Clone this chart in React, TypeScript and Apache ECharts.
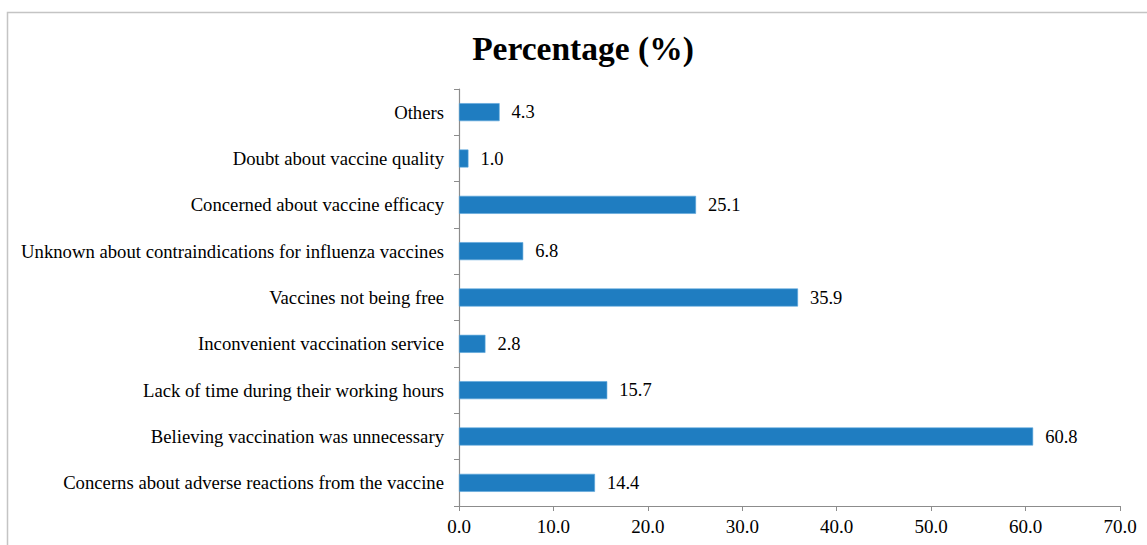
import React, { useEffect, useRef } from "react";
import * as echarts from "echarts";

const categories = [
  "Concerns about adverse reactions from the vaccine",
  "Believing vaccination was unnecessary",
  "Lack of time during their working hours",
  "Inconvenient vaccination service",
  "Vaccines not being free",
  "Unknown about contraindications for influenza vaccines",
  "Concerned about vaccine efficacy",
  "Doubt about vaccine quality",
  "Others",
];
const values = [14.4, 60.8, 15.7, 2.8, 35.9, 6.8, 25.1, 1.0, 4.3];
const xTicks = { min: 0, max: 70, interval: 10 };

const FONT = "'Times New Roman', 'Liberation Serif', serif";

export default function App() {
  const ref = useRef<HTMLDivElement>(null);
  useEffect(() => {
    document.body.style.margin = "0";
    const chart = echarts.init(ref.current!, null, { renderer: "svg" });
    chart.setOption({
      animation: false,
      backgroundColor: "#ffffff",
      title: {
        text: "Percentage (%)",
        left: 578,
        textAlign: "center",
        top: 26,
        textStyle: { fontFamily: FONT, fontSize: 33.5, fontWeight: "bold", color: "#000" },
      },
      graphic: [
        {
          type: "rect",
          shape: { x: 7.5, y: 12.5, width: 1160, height: 560 },
          style: { fill: "none", stroke: "#c4c4c4", lineWidth: 1.5 },
          silent: true,
        },
      ],
      grid: { left: 459, right: 27, top: 89, bottom: 39, containLabel: false },
      xAxis: {
        type: "value",
        min: xTicks.min,
        max: xTicks.max,
        interval: xTicks.interval,
        axisLine: { show: true, lineStyle: { color: "#8c8c8c", width: 1.2 } },
        axisTick: { show: true, length: 5, lineStyle: { color: "#8c8c8c" } },
        splitLine: { show: false },
        axisLabel: {
          formatter: (v: number) => v.toFixed(1),
          fontFamily: FONT,
          fontSize: 19,
          color: "#000",
          margin: 11,
        },
      },
      yAxis: {
        type: "category",
        data: categories,
        axisLine: { show: true, lineStyle: { color: "#8c8c8c", width: 1.2 } },
        axisTick: { show: true, length: 5, alignWithLabel: false, lineStyle: { color: "#8c8c8c" } },
        axisLabel: { fontFamily: FONT, fontSize: 18.7, color: "#000", margin: 15 },
      },
      series: [
        {
          type: "bar",
          data: values,
          barWidth: 18,
          itemStyle: { color: "#1F7DC1", borderColor: "#5aa6dc", borderWidth: 0.6 },
          label: {
            show: true,
            position: "right",
            distance: 12,
            formatter: (p: any) => Number(p.value).toFixed(1),
            fontFamily: FONT,
            fontSize: 18.5,
            color: "#000",
          },
        },
      ],
    });
    return () => chart.dispose();
  }, []);
  return <div ref={ref} style={{ width: 1147, height: 545 }} />;
}
